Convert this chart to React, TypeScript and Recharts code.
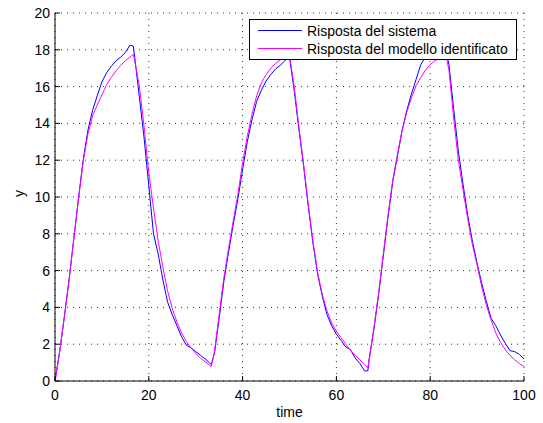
import {
  LineChart,
  Line,
  XAxis,
  YAxis,
  CartesianGrid,
  Legend,
} from 'recharts';

const FONT = '"Liberation Sans", Arial, Helvetica, sans-serif';

const X_TICKS = [0, 20, 40, 60, 80, 100];
const Y_TICKS = [0, 2, 4, 6, 8, 10, 12, 14, 16, 18, 20];

const time = [
  0, 1, 2, 3, 4, 5, 6, 7, 8, 9, 10, 11, 12, 13, 14, 15, 16, 16.7,
  17, 18, 19, 20, 21, 22, 23, 24, 25, 26, 27, 28, 29, 30, 31, 32, 33, 33.3,
  34, 35, 36, 37, 38, 39, 40, 41, 42, 43, 44, 45, 46, 47, 48, 49, 50,
  51, 52, 53, 54, 55, 56, 57, 58, 59, 60, 61, 62, 63, 64, 65, 66, 66.7,
  67, 68, 69, 70, 71, 72, 73, 74, 75, 76, 77, 78, 79, 80, 81, 82, 83, 83.3,
  84, 85, 86, 87, 88, 89, 90, 91, 92, 93, 94, 95, 96, 97, 98, 99, 100,
];

// Risposta del sistema (blue)
const sistema = [
  0, 1.6, 3.5, 5.5, 7.7, 9.9, 12.0, 13.6, 14.7, 15.5, 16.25, 16.75, 17.1, 17.4, 17.6, 17.85, 18.25, 18.2,
  17.6, 15.4, 13.2, 10.6, 8.0, 6.9, 5.5, 4.3, 3.6, 3.0, 2.4, 1.95, 1.8, 1.6, 1.4, 1.2, 0.97, 0.9,
  1.5, 3.4, 5.4, 7.0, 8.5, 9.9, 11.5, 13.0, 14.2, 15.2, 15.8, 16.3, 16.65, 16.95, 17.15, 17.4, 17.6,
  15.8, 13.7, 11.7, 9.5, 7.5, 5.8, 4.6, 3.6, 3.0, 2.55, 2.2, 1.85, 1.7, 1.25, 0.95, 0.55, 0.55,
  1.2, 2.8, 4.7, 6.8, 8.9, 10.8, 12.2, 13.6, 14.7, 15.6, 16.4, 17.2, 17.6, 17.8, 17.9, 18.0, 18.05, 18.0,
  17.2, 14.8, 12.5, 10.7, 9.0, 7.6, 6.4, 5.3, 4.3, 3.4, 3.0, 2.5, 2.05, 1.65, 1.6, 1.45, 1.2,
];

// Risposta del modello identificato (magenta)
const modello = [
  0, 1.6, 3.5, 5.5, 7.7, 9.9, 11.9, 13.4, 14.4, 15.0, 15.55, 16.1, 16.5, 16.85, 17.15, 17.4, 17.6, 17.75,
  17.4, 16.0, 13.8, 11.3, 9.4, 7.6, 6.2, 4.9, 3.95, 3.2, 2.6, 2.15, 1.8, 1.5, 1.25, 1.05, 0.85, 0.78,
  1.6, 3.6, 5.6, 7.2, 8.7, 10.15, 11.85, 13.3, 14.5, 15.5, 16.2, 16.65, 17.0, 17.25, 17.45, 17.6, 17.7,
  16.0, 13.8, 11.8, 9.6, 7.6, 5.9, 4.7, 3.8, 3.15, 2.7, 2.35, 2.0, 1.65, 1.4, 1.15, 0.9, 0.72,
  1.2, 2.9, 4.8, 6.9, 9.0, 10.9, 12.3, 13.6, 14.6, 15.4, 16.05, 16.5, 16.9, 17.2, 17.4, 17.55, 17.7, 17.75,
  16.9, 14.3, 12.0, 10.4, 8.8, 7.4, 6.3, 5.1, 4.1, 3.3, 2.6, 2.1, 1.7, 1.4, 1.15, 0.95, 0.78,
];

const data = time.map((t, i) => ({ t, sistema: sistema[i], modello: modello[i] }));

const TICK_LEN = 5;
const FS = 14;

const BottomTick = ({ x, y, payload }: any) => (
  <g>
    <line x1={x} y1={y} x2={x} y2={y - TICK_LEN} stroke="#000" />
    <text x={x} y={y + 19} textAnchor="middle" fontSize={FS} fontFamily={FONT} fill="#000">
      {payload.value}
    </text>
  </g>
);

const TopTick = ({ x, y }: any) => (
  <line x1={x} y1={y} x2={x} y2={y + TICK_LEN} stroke="#000" />
);

const LeftTick = ({ x, y, payload }: any) => (
  <g>
    <line x1={x} y1={y} x2={x + TICK_LEN} y2={y} stroke="#000" />
    <text x={x - 5} y={y + 5} textAnchor="end" fontSize={FS} fontFamily={FONT} fill="#000">
      {payload.value}
    </text>
  </g>
);

const RightTick = ({ x, y }: any) => (
  <line x1={x} y1={y} x2={x - TICK_LEN} y2={y} stroke="#000" />
);

const LegendBox = () => (
  <svg width={268} height={41} style={{ display: 'block' }}>
    <rect x={0.5} y={0.5} width={267} height={40} fill="#fff" stroke="#000" />
    <line x1={9} y1={11.5} x2={53} y2={11.5} stroke="#0000ff" />
    <text x={58} y={16.5} fontSize={FS} fontFamily={FONT} fill="#000">
      Risposta del sistema
    </text>
    <line x1={9} y1={29.5} x2={53} y2={29.5} stroke="#ff00ff" />
    <text x={58} y={34.5} fontSize={FS} fontFamily={FONT} fill="#000">
      Risposta del modello identificato
    </text>
  </svg>
);

export default function App() {
  return (
    <div style={{ position: 'absolute', left: 0, top: 0, background: '#fff' }}>
      <LineChart
        width={543}
        height={423}
        data={data}
        margin={{ top: 13, right: 19, left: 15, bottom: 0 }}
        style={{ fontFamily: FONT }}
      >
        <CartesianGrid stroke="#333" strokeDasharray="1 5" />
        <XAxis
          dataKey="t"
          type="number"
          domain={[0, 100]}
          ticks={X_TICKS}
          height={42}
          tickSize={0}
          tickMargin={0}
          tickLine={false}
          tick={<BottomTick />}
          axisLine={{ stroke: '#000' }}
          label={{ value: 'time', position: 'insideBottom', offset: 6, fill: '#000', fontSize: FS }}
        />
        <XAxis
          xAxisId="top"
          dataKey="t"
          type="number"
          orientation="top"
          domain={[0, 100]}
          ticks={X_TICKS}
          height={0}
          tickSize={0}
          tickMargin={0}
          tickLine={false}
          tick={<TopTick />}
          axisLine={{ stroke: '#000' }}
        />
        <YAxis
          type="number"
          domain={[0, 20]}
          ticks={Y_TICKS}
          width={40}
          tickSize={0}
          tickMargin={0}
          tickLine={false}
          tick={<LeftTick />}
          axisLine={{ stroke: '#000' }}
          label={{ value: 'y', angle: -90, position: 'insideLeft', offset: 4, fill: '#000', fontSize: FS }}
        />
        <YAxis
          yAxisId="right"
          type="number"
          orientation="right"
          domain={[0, 20]}
          ticks={Y_TICKS}
          width={0}
          tickSize={0}
          tickMargin={0}
          tickLine={false}
          tick={<RightTick />}
          axisLine={{ stroke: '#000' }}
        />
        <Legend
          layout="horizontal"
          verticalAlign="middle"
          align="center"
          content={<LegendBox />}
          wrapperStyle={{ left: 249, top: 19, width: 268, height: 41 }}
        />
        <Line
          type="linear"
          dataKey="sistema"
          stroke="#0000ff"
          strokeWidth={1}
          dot={false}
          activeDot={false}
          isAnimationActive={false}
        />
        <Line
          type="linear"
          dataKey="modello"
          stroke="#ff00ff"
          strokeWidth={1}
          dot={false}
          activeDot={false}
          isAnimationActive={false}
        />
        <Line
          xAxisId="top"
          yAxisId="right"
          type="linear"
          dataKey="modello"
          stroke="none"
          dot={false}
          activeDot={false}
          legendType="none"
          isAnimationActive={false}
        />
      </LineChart>
    </div>
  );
}
